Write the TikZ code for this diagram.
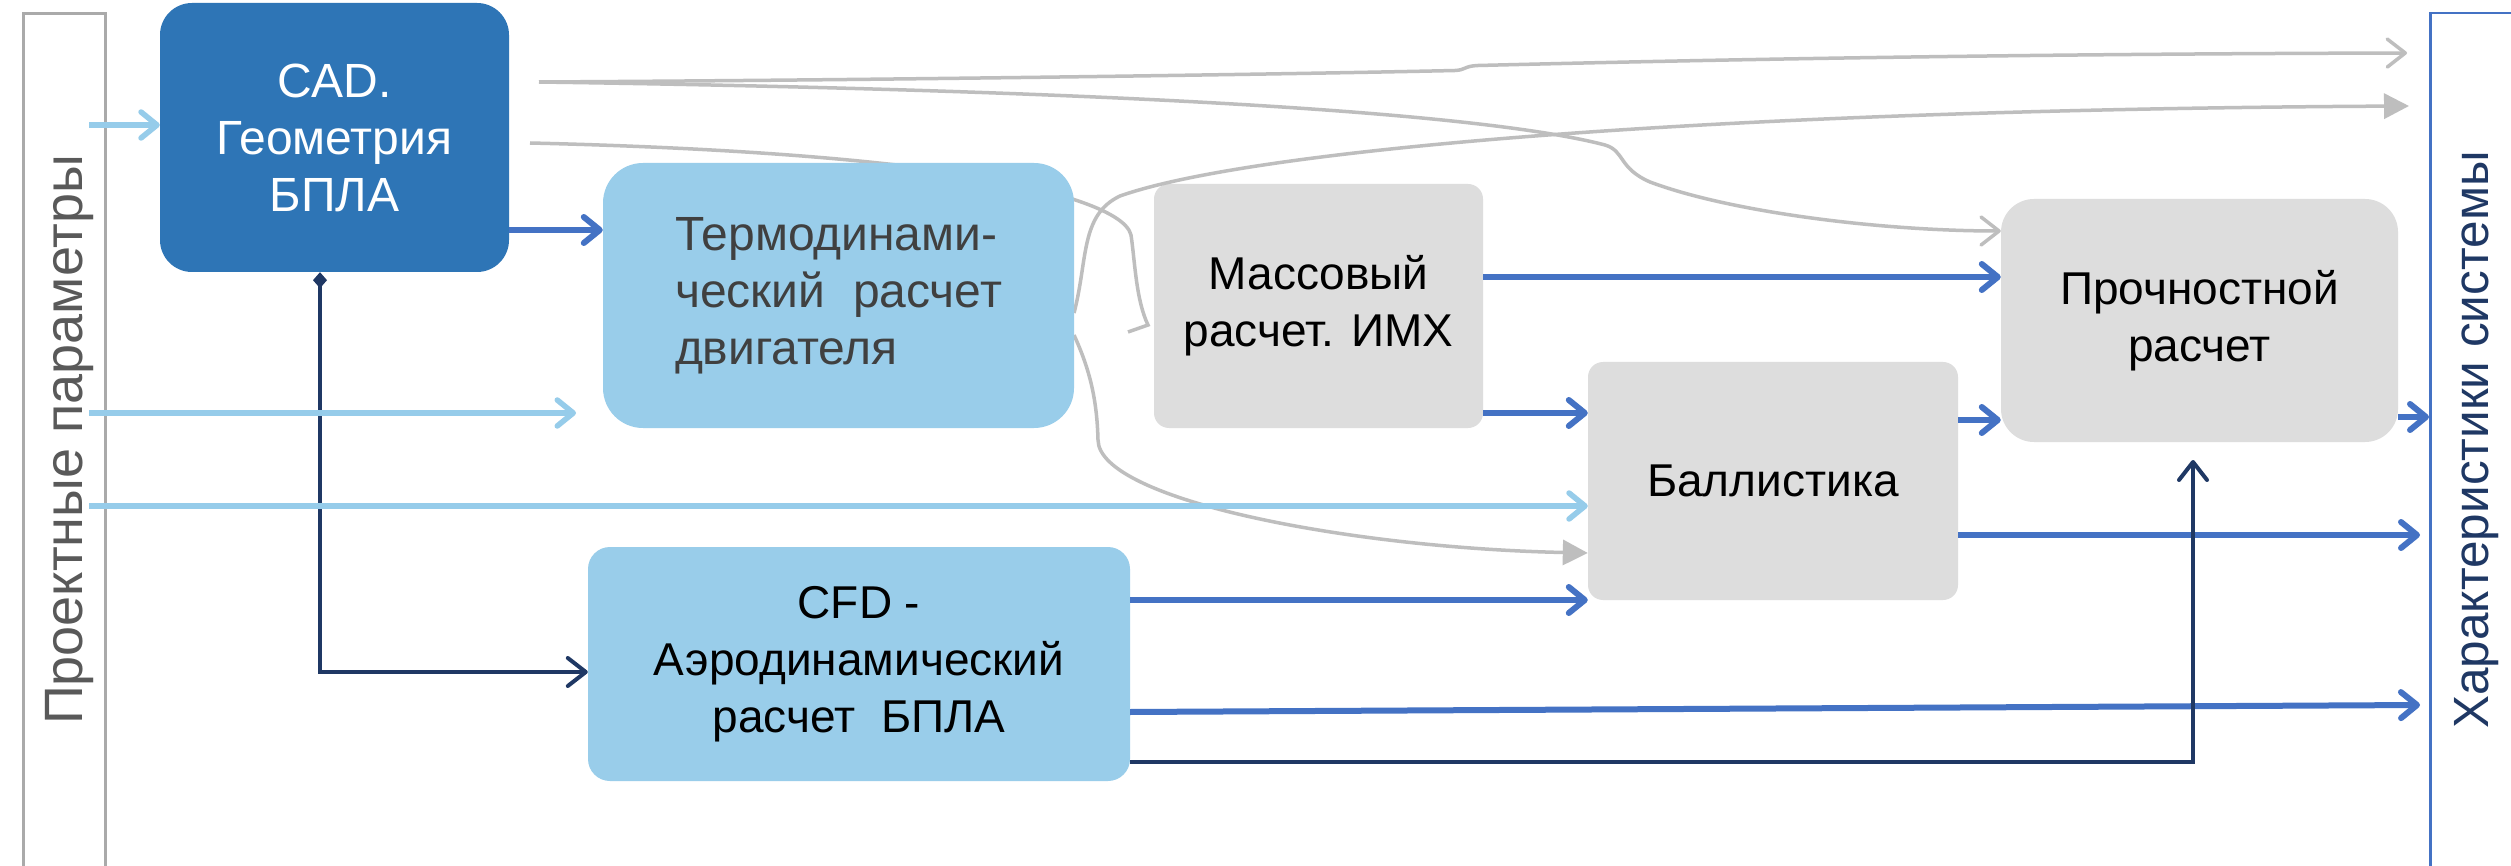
\documentclass[tikz,border=0pt]{standalone}
\usepackage{fontspec}
\setmainfont{Liberation Sans}
\usetikzlibrary{arrows.meta}
\definecolor{cadblue}{RGB}{46,117,182}
\definecolor{lfill}{RGB}{153,205,234}
\definecolor{lline}{RGB}{150,204,234}
\definecolor{gfill}{RGB}{221,221,221}
\definecolor{gline}{RGB}{190,190,190}
\definecolor{bline}{RGB}{68,114,196}
\definecolor{navy}{RGB}{31,56,100}
\definecolor{sidegray}{RGB}{170,170,170}
\definecolor{labgray}{RGB}{89,89,89}
\definecolor{thtext}{RGB}{64,64,64}
\tikzset{
  boxtxt/.style={font=\fontsize{46}{57}\selectfont, inner sep=0pt, align=center},
  bigtxt/.style={font=\fontsize{48}{57}\selectfont},
  cadbox/.style={boxtxt, bigtxt, fill=cadblue, text=white, rounded corners=32pt},
  ltbox/.style={boxtxt, fill=lfill, text=black},
  gbox/.style={boxtxt, fill=gfill, text=black},
  barrow/.style={draw=bline, line width=6pt, -{Straight Barb[length=16pt,width=26pt,round]}},
  larrow/.style={draw=lline, line width=5.5pt, -{Straight Barb[length=16pt,width=26pt,round]}},
  garrow/.style={draw=gline, line width=3.5pt, -{Straight Barb[length=18pt,width=28pt,round]}},
  gfarrow/.style={draw=gline, line width=3.5pt, -{Triangle[length=25pt,width=25pt]}},
  gline/.style={draw=gline, line width=3.5pt},
  narrow/.style={draw=navy, line width=4pt, -{Straight Barb[length=18pt,width=28pt,round]}},
}
\begin{document}
\begin{tikzpicture}[x=1pt,y=-1pt]
\useasboundingbox (0,0) rectangle (2511,866);
\fill[white] (0,0) rectangle (2511,866);

% side frames
\node[draw=sidegray, line width=3pt, minimum width=82pt, minimum height=880pt, anchor=north west, inner sep=0pt] (L) at (21.5,12) {};
\node[rotate=90, anchor=base, text=labgray, font=\fontsize{54}{60}\selectfont, inner sep=0pt] (Ltxt) at (82,440) {Проектные параметры};
\node[draw=bline, line width=2.5pt, minimum width=120pt, minimum height=880pt, anchor=north west, inner sep=0pt] (R) at (2429,12) {};
\node[rotate=90, anchor=base, text=navy, font=\fontsize{49.5}{56}\selectfont, inner sep=0pt] (Rtxt) at (2488,440) {Характеристики системы};

% gray connectors behind boxes
\coordinate (g0) at (539,82);
\coordinate (g1) at (530,143);
\coordinate (gt1) at (2407,53);
\coordinate (gt2) at (2409,106);
\coordinate (gh) at (1128,332);

\node[cadbox, minimum width=349pt, minimum height=269pt] (cad) at (334.5,137.5) {CAD.\\Геометрия\\БПЛА};

\draw[garrow] (g0) .. controls (900,80) and (1300,74) .. (1455,70.5) .. controls (1466,70) and (1464,66) .. (1478,65.5) .. controls (1700,60) and (2000,54) .. (gt1);

\node[gbox, rounded corners=33pt, minimum width=397pt, minimum height=243pt] (strength) at (2199.5,320.5) {Прочностной\\расчет};
\node[gbox, rounded corners=15pt, minimum width=329pt, minimum height=244pt] (mass) at (1318.5,306) {Массовый\\расчет. ИМХ};
\node[gbox, rounded corners=15pt, minimum width=370pt, minimum height=238pt] (ball) at (1773,481) {Баллистика};

\draw[garrow] (g0) .. controls (1100,90) and (1480,112) .. (1605,145) .. controls (1625,151) and (1618,168) .. (1650,182) .. controls (1730,212) and (1880,231) .. (strength.west |- 0,231);
\draw[gline] (g1) .. controls (700,147) and (850,157) .. (950,172) .. controls (1050,188) and (1125,210) .. (1131,235) .. controls (1135,262) and (1136,300) .. (1148,325) -- (gh);
\draw[gfarrow] (1074,313) .. controls (1088,260) and (1080,215) .. (1120,196) .. controls (1250,150) and (1700,110) .. (gt2);
\draw[gfarrow] (1074,335) .. controls (1090,370) and (1097,400) .. (1098,440) .. controls (1099,500) and (1350,548) .. (ball.west |- 0,553);

\node[ltbox, bigtxt, rounded corners=40pt, minimum width=471pt, minimum height=265pt, align=left, text=thtext] (thermo) at (838.5,295.5) {Термодинами-\\ческий\hspace{0.3em} расчет\\двигателя};
\node[ltbox, rounded corners=22pt, minimum width=542pt, minimum height=234pt] (cfd) at (859,664) {CFD -\\Аэродинамический\\расчет\ \ БПЛА};

% navy connectors
\coordinate (n1) at (2193,460);
\draw[narrow, {Diamond[length=16pt,width=14pt]}-{Straight Barb[length=18pt,width=28pt,round]}] (320,0 |- cad.south) |- (cfd.west |- 0,672);

% blue connectors
\coordinate (o1) at (2420,535);
\coordinate (o2) at (2420,705);
\draw[barrow] (cad.east |- 0,230) -- (thermo.west |- 0,230);
\draw[barrow] (mass.east |- 0,277) -- (strength.west |- 0,277);
\draw[barrow] (mass.east |- 0,413) -- (ball.west |- 0,413);
\draw[barrow] (ball.east |- 0,420) -- (strength.west |- 0,420);
\draw[barrow] (strength.east |- 0,417) -- (R.west |- 0,417);
\draw[barrow] (ball.east |- 0,535) -- (o1);
\draw[barrow] (cfd.east |- 0,600) -- (ball.west |- 0,600);
\draw[barrow] (cfd.east |- 0,712) -- (o2);
\draw[narrow] (cfd.east |- 0,762) -| (n1);

% light blue inputs
\coordinate (s1) at (89,125);
\coordinate (s2) at (89,413);
\coordinate (s3) at (89,506);
\coordinate (e2) at (576,413);
\draw[larrow] (s1) -- (cad.west |- s1);
\draw[larrow] (s2) -- (e2);
\draw[larrow] (s3) -- (ball.west |- s3);
\end{tikzpicture}
\end{document}
